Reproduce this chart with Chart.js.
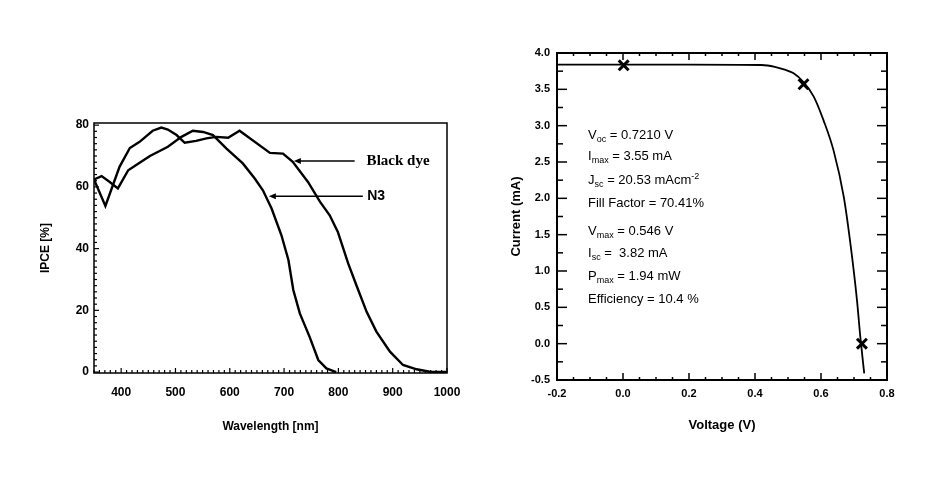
<!DOCTYPE html>
<html>
<head>
<meta charset="utf-8">
<script src="https://cdn.jsdelivr.net/npm/chart.js@4.4.0/dist/chart.umd.min.js"></script>
<style>
  html, body { margin: 0; padding: 0; background: #fff; }
  #wrap { position: relative; width: 951px; height: 479px; }
  canvas { position: absolute; top: 0; }
  #ipce { left: 0; }
  #iv { left: 476px; }
</style>
</head>
<body>
<div id="wrap">
  <canvas id="ipce" width="476" height="479"></canvas>
  <canvas id="iv" width="475" height="479"></canvas>
</div>
<script>
// IPCE spectra, wavelength (nm) vs IPCE (%)
var blackDyeNm   = [350, 371, 397, 416, 434, 458, 474, 486, 502, 517, 538, 557, 575, 597, 618, 674, 698, 716, 744, 766, 784, 799, 818, 833, 852, 870, 895, 919, 944, 968, 1000];
var blackDyeIpce = [62.4, 53.8, 66.5, 72.6, 74.6, 78.2, 79.2, 78.6, 76.8, 74.3, 74.9, 75.7, 76.2, 75.9, 78.2, 71.0, 70.8, 68.1, 61.6, 55.2, 50.8, 45.4, 35.2, 28.2, 19.5, 13.1, 6.6, 2.3, 0.9, 0.1, 0];
var n3Nm   = [350, 364, 379, 394, 413, 434, 453, 486, 511, 532, 551, 569, 594, 624, 646, 661, 677, 695, 708, 717, 729, 747, 763, 778, 796];
var n3Ipce = [62.4, 63.5, 61.6, 59.5, 65.4, 67.8, 70.0, 73.0, 76.2, 78.2, 77.8, 76.8, 72.4, 67.6, 62.7, 58.9, 53.0, 44.4, 36.3, 26.6, 19.0, 11.4, 3.9, 1.2, 0];
var wavelengthTicks = [400, 500, 600, 700, 800, 900, 1000];
var ipceTicks = [0, 20, 40, 60, 80];

// I-V curve of the black dye cell
var voltage = [-0.2, 0.0, 0.2, 0.42, 0.46, 0.49, 0.517, 0.547, 0.578, 0.608, 0.638, 0.669, 0.689, 0.709, 0.719, 0.731];
var current = [3.84, 3.84, 3.84, 3.835, 3.81, 3.77, 3.72, 3.60, 3.40, 3.07, 2.66, 2.02, 1.38, 0.60, 0.10, -0.41];
var markerV = [0.002, 0.547, 0.724];
var markerI = [3.83, 3.57, 0.0];
var voltageTicks = [-0.2, 0.0, 0.2, 0.4, 0.6, 0.8];
var currentTicks = [-0.5, 0.0, 0.5, 1.0, 1.5, 2.0, 2.5, 3.0, 3.5, 4.0];

// cell parameters: [text, '' | 'sub' | 'sup'] pieces, placed at current value
var paramRows = [
  [['V', ''], ['oc', 'sub'], [' = 0.7210 V', '']],
  [['I', ''], ['max', 'sub'], [' = 3.55 mA', '']],
  [['J', ''], ['sc', 'sub'], [' = 20.53 mAcm', ''], ['-2', 'sup']],
  [['Fill Factor = 70.41%', '']],
  [['V', ''], ['max', 'sub'], [' = 0.546 V', '']],
  [['I', ''], ['sc', 'sub'], [' =  3.82 mA', '']],
  [['P', ''], ['max', 'sub'], [' = 1.94 mW', '']],
  [['Efficiency = 10.4 %', '']]
];
var paramRowsAt = [2.87, 2.57, 2.25, 1.93, 1.55, 1.24, 0.92, 0.61];

Chart.defaults.font.family = '"Liberation Sans", Arial, Helvetica, sans-serif';
Chart.defaults.color = '#000';
Chart.defaults.animation = false;

function toPoints(xs, ys) {
  return xs.map(function(x, i) { return { x: x, y: ys[i] }; });
}

function fixedTicks(list) {
  return function(scale) {
    scale.ticks = list.map(function(v) { return { value: v }; });
  };
}

// box round the plot area plus inward tick marks
var framePlugin = {
  id: 'frame',
  afterDatasetsDraw: function(chart, args, opts) {
    var a = chart.chartArea, ctx = chart.ctx;
    ctx.save();
    ctx.strokeStyle = '#000';
    ctx.lineWidth = opts.width;
    ctx.strokeRect(a.left, a.top, a.right - a.left, a.bottom - a.top);
    ctx.lineWidth = opts.tickWidth;
    opts.ticks.forEach(function(t) {
      var scale = chart.scales[t.axis];
      for (var k = 0; ; k++) {
        var v = t.from + k * t.step;
        if (v > scale.max + 1e-9) break;
        var r = v / t.major;
        var len = Math.abs(r - Math.round(r)) < 1e-6 ? t.majorLen : t.len;
        var p = scale.getPixelForValue(v);
        t.sides.forEach(function(side) {
          ctx.beginPath();
          if (side === 'bottom') { ctx.moveTo(p, a.bottom); ctx.lineTo(p, a.bottom - len); }
          if (side === 'top') { ctx.moveTo(p, a.top); ctx.lineTo(p, a.top + len); }
          if (side === 'left') { ctx.moveTo(a.left, p); ctx.lineTo(a.left + len, p); }
          if (side === 'right') { ctx.moveTo(a.right, p); ctx.lineTo(a.right - len, p); }
          ctx.stroke();
        });
      }
    });
    ctx.restore();
  }
};

// arrows with dye names on the IPCE plot
var dyeLabels = [
  { text: 'Black dye', font: 'bold 15px "Liberation Serif", "Times New Roman", serif', tip: [718, 68.4], tail: 830, textX: 852 },
  { text: 'N3', font: 'bold 14px "Liberation Sans", Arial, sans-serif', tip: [672, 57.0], tail: 845, textX: 853 }
];

var dyeLabelPlugin = {
  id: 'dyeLabels',
  afterDraw: function(chart) {
    var ctx = chart.ctx, xs = chart.scales.x, ys = chart.scales.y;
    ctx.save();
    ctx.strokeStyle = '#000';
    ctx.fillStyle = '#000';
    ctx.lineWidth = 1.5;
    dyeLabels.forEach(function(l) {
      var x0 = xs.getPixelForValue(l.tip[0]);
      var y0 = ys.getPixelForValue(l.tip[1]);
      var x1 = xs.getPixelForValue(l.tail);
      ctx.beginPath();
      ctx.moveTo(x0 + 5, y0);
      ctx.lineTo(x1, y0);
      ctx.stroke();
      ctx.beginPath();
      ctx.moveTo(x0, y0);
      ctx.lineTo(x0 + 7, y0 - 3);
      ctx.lineTo(x0 + 7, y0 + 3);
      ctx.closePath();
      ctx.fill();
      ctx.font = l.font;
      ctx.textBaseline = 'middle';
      ctx.fillText(l.text, xs.getPixelForValue(l.textX), y0);
    });
    ctx.restore();
  }
};

var paramPlugin = {
  id: 'params',
  afterDraw: function(chart) {
    var ctx = chart.ctx, xs = chart.scales.x, ys = chart.scales.y;
    var size = 13;
    ctx.save();
    ctx.fillStyle = '#000';
    ctx.textBaseline = 'middle';
    paramRows.forEach(function(row, i) {
      var x = xs.getPixelForValue(-0.106);
      var y = ys.getPixelForValue(paramRowsAt[i]);
      row.forEach(function(piece) {
        var small = piece[1] !== '';
        ctx.font = (small ? 9 : size) + 'px "Liberation Sans", Arial, sans-serif';
        var dy = piece[1] === 'sub' ? 4 : piece[1] === 'sup' ? -4 : 0;
        ctx.fillText(piece[0], x, y + dy);
        x += ctx.measureText(piece[0]).width;
      });
    });
    ctx.restore();
  }
};

new Chart(document.getElementById('ipce'), {
  type: 'line',
  data: {
    datasets: [
      { label: 'Black dye', data: toPoints(blackDyeNm, blackDyeIpce), borderColor: '#000', borderWidth: 2.4, pointRadius: 0, tension: 0 },
      { label: 'N3', data: toPoints(n3Nm, n3Ipce), borderColor: '#000', borderWidth: 2.4, pointRadius: 0, tension: 0 }
    ]
  },
  options: {
    responsive: false,
    layout: { padding: { left: 34, right: 29, top: 123, bottom: 36 } },
    plugins: {
      legend: { display: false },
      tooltip: { enabled: false },
      frame: {
        width: 1.5, tickWidth: 1.2,
        ticks: [
          { axis: 'x', from: 350, step: 10, major: 100, len: 3, majorLen: 5, sides: ['bottom'] },
          { axis: 'y', from: 0, step: 2, major: 20, len: 3, majorLen: 5, sides: ['left'] }
        ]
      }
    },
    scales: {
      x: {
        type: 'linear', min: 350, max: 1000,
        afterBuildTicks: fixedTicks(wavelengthTicks),
        afterFit: function(s) { s.height = 70; },
        grid: { display: false, drawTicks: false },
        border: { display: false },
        ticks: { padding: 12, maxRotation: 0, autoSkip: false, font: { size: 12, weight: 'bold' },
                 callback: function(v) { return String(v); } },
        title: { display: true, text: 'Wavelength [nm]', font: { size: 12, weight: 'bold' }, padding: { top: 0, bottom: 9 } }
      },
      y: {
        min: -0.3, max: 80.7,
        afterBuildTicks: fixedTicks(ipceTicks),
        afterFit: function(s) { s.width = 60; },
        grid: { display: false, drawTicks: false },
        border: { display: false },
        ticks: { padding: 5, autoSkip: false, font: { size: 12, weight: 'bold' } },
        title: { display: true, text: 'IPCE [%]', font: { size: 12, weight: 'bold' }, padding: { top: 4, bottom: 0 } }
      }
    }
  },
  plugins: [framePlugin, dyeLabelPlugin]
});

new Chart(document.getElementById('iv'), {
  type: 'line',
  data: {
    datasets: [
      { label: 'I-V', data: toPoints(voltage, current), borderColor: '#000', borderWidth: 1.8, pointRadius: 0, cubicInterpolationMode: 'monotone' },
      { label: 'points', data: toPoints(markerV, markerI), showLine: false, pointStyle: 'crossRot', pointRadius: 7, borderColor: '#000', pointBorderWidth: 3 }
    ]
  },
  options: {
    responsive: false,
    layout: { padding: { left: 11, right: 64, top: 53, bottom: 29 } },
    plugins: {
      legend: { display: false },
      tooltip: { enabled: false },
      frame: {
        width: 2, tickWidth: 1.5,
        ticks: [
          { axis: 'x', from: -0.2, step: 0.05, major: 0.2, len: 3, majorLen: 7, sides: ['bottom', 'top'] },
          { axis: 'y', from: -0.5, step: 0.25, major: 0.5, len: 6, majorLen: 10, sides: ['left', 'right'] }
        ]
      }
    },
    scales: {
      x: {
        type: 'linear', min: -0.2, max: 0.8,
        afterBuildTicks: fixedTicks(voltageTicks),
        afterFit: function(s) { s.height = 70; },
        grid: { display: false, drawTicks: false },
        border: { display: false },
        ticks: { padding: 7, maxRotation: 0, autoSkip: false, font: { size: 11, weight: 'bold' },
                 callback: function(v) { return v.toFixed(1); } },
        title: { display: true, text: 'Voltage (V)', font: { size: 13, weight: 'bold' }, padding: { top: 0, bottom: 17 } }
      },
      y: {
        min: -0.5, max: 4.0,
        afterBuildTicks: fixedTicks(currentTicks),
        afterFit: function(s) { s.width = 70; },
        grid: { display: false, drawTicks: false },
        border: { display: false },
        ticks: { padding: 7, autoSkip: false, font: { size: 11, weight: 'bold' },
                 callback: function(v) { return v.toFixed(1); } },
        title: { display: true, text: 'Current (mA)', font: { size: 13, weight: 'bold' }, padding: { top: 22, bottom: 0 } }
      }
    }
  },
  plugins: [framePlugin, paramPlugin]
});
</script>
</body>
</html>
